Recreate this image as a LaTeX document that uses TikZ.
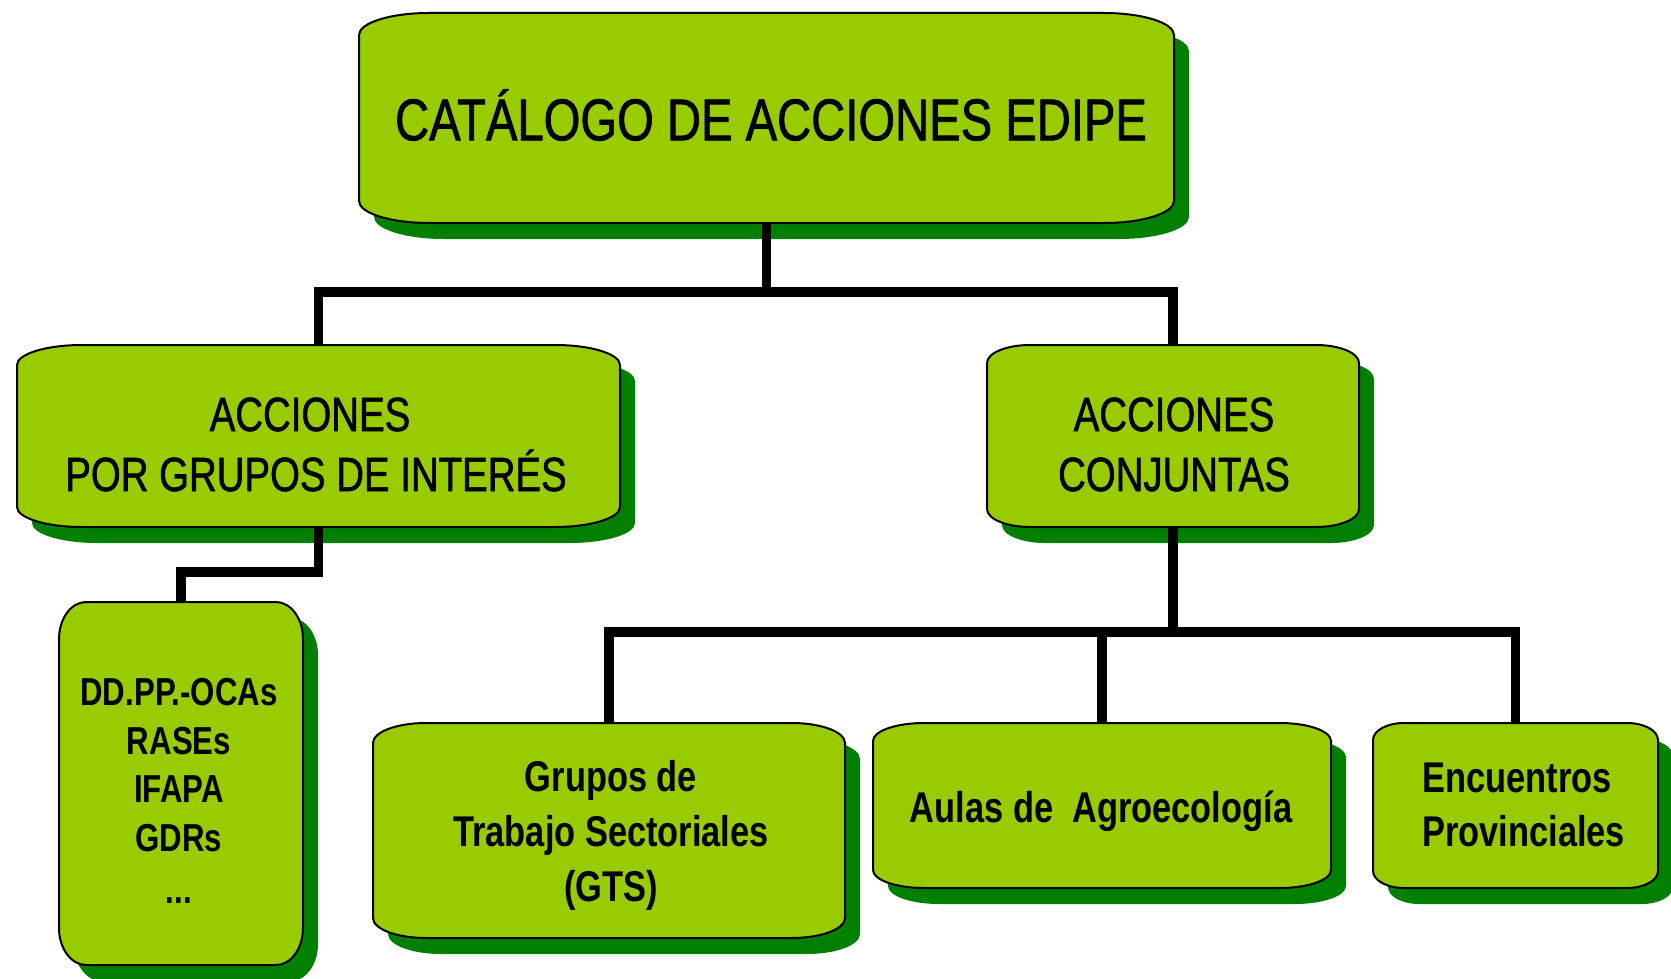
\documentclass[tikz,border=0pt]{standalone}
\usepackage{fontspec}
\newfontfamily\cf{Liberation Sans}[FakeStretch=0.8]
\newfontfamily\cfr{Liberation Sans}[FakeStretch=0.8,FakeBold=1.2]
\definecolor{boxgreen}{HTML}{99CC00}
\definecolor{shadowgreen}{HTML}{007F00}
\tikzset{
  boxline/.style={draw=black,line width=1pt,fill=boxgreen,line join=round},
  shadowfill/.style={fill=shadowgreen},
  boxnode/.style={rectangle,inner sep=0pt,outer sep=0pt},
  conn/.style={draw=black,line width=4.8pt,line join=miter},
  txtreg/.style={inner sep=0pt,align=center,font=\cfr\fontsize{24}{30}\selectfont},
  txtbold/.style={inner sep=0pt,align=center,font=\cf\bfseries\fontsize{21.5}{27.5}\selectfont}
}
% #1 x1, #2 y1, #3 x2, #4 y2, #5 rx, #6 ry, #7 style
\newcommand\gpath[7]{%
  \path[#7] ({#1},{#2+#6}) .. controls +(0,{-0.552*#6}) and +({-0.552*#5},0) .. ({#1+#5},{#2})
   -- ({#3-#5},{#2}) .. controls +({0.552*#5},0) and +(0,{-0.552*#6}) .. ({#3},{#2+#6})
   -- ({#3},{#4-#6}) .. controls +(0,{0.552*#6}) and +({0.552*#5},0) .. ({#3-#5},{#4})
   -- ({#1+#5},{#4}) .. controls +({-0.552*#5},0) and +(0,{0.552*#6}) .. ({#1},{#4-#6}) -- cycle;}
% #1 name, #2 x1, #3 y1, #4 x2, #5 y2, #6 rx, #7 ry
\newcommand\gbox[7]{%
  \gpath{#2}{#3}{#4}{#5}{#6}{#7}{shadowfill,shift={(15,16)}}%
  \gpath{#2}{#3}{#4}{#5}{#6}{#7}{boxline}%
  \pgfmathsetmacro\gbw{(#4-#2)*0.5}%
  \pgfmathsetmacro\gbh{(#5-#3)*0.5}%
  \node[boxnode,minimum width=\gbw pt,minimum height=\gbh pt] (#1) at ({(#2+#4)/2},{(#3+#5)/2}) {};%
}
\begin{document}
\begin{tikzpicture}[x=0.5pt,y=-0.5pt]
\useasboundingbox (0,0) rectangle (1671,979);
% boxes
\gbox{top}{359}{13}{1174}{223}{70}{22}
\gbox{lmid}{17}{345}{620}{527}{65}{20}
\gbox{rmid}{987}{345}{1359}{527}{43}{18}
\gbox{small}{59}{602}{303}{965}{27}{37}
\gbox{gts}{373}{723}{845}{938}{53}{20}
\gbox{aulas}{873}{723}{1331}{888}{51}{18}
\gbox{enc}{1373}{723}{1658}{888}{31}{17}
% texts
\node[inner sep=0pt,font=\cfr\fontsize{29.5}{36}\selectfont] (top-t) at (771,115) {CATÁLOGO DE ACCIONES EDIPE};
\node[txtreg] (lmid-t) at (316,444.5) {ACCIONES\hspace*{6pt}\\POR GRUPOS DE INTERÉS};
\node[txtreg] (rmid-t) at (1174,444.5) {ACCIONES\\CONJUNTAS};
\node[inner sep=0pt,align=center,font=\cf\bfseries\fontsize{19.5}{24.25}\selectfont] (small-t) at (179,791) {DD.PP.-OCAs\\RASEs\\IFAPA\\GDRs\\[2pt]...};
\node[txtbold] (gts-t) at (611,835.5) {Grupos de\\Trabajo Sectoriales\\(GTS)};
\node[txtbold] (aulas-t) at (1101,811.5) {Aulas de\ \ Agroecología};
\node[inner sep=0pt,align=left,anchor=west,font=\cf\bfseries\fontsize{21.5}{27}\selectfont] (enc-t) at (1422,805) {Encuentros\\Provinciales};
% junctions
\coordinate (j1) at (766.5,292);
\coordinate (j2) at (318.5,572);
\coordinate (j3) at (1173,632);
% connectors
\draw[conn] (top.south) -- (j1);
\draw[conn] (lmid.north) |- (j1) -| (rmid.north);
\draw[conn] (lmid.south) -- (j2) -| (small.north);
\draw[conn] (rmid.south) -- (j3);
\draw[conn] (gts.north) |- (j3) -| (enc.north);
\draw[conn] (aulas.north) -- (aulas.north |- j3);
\end{tikzpicture}
\end{document}
